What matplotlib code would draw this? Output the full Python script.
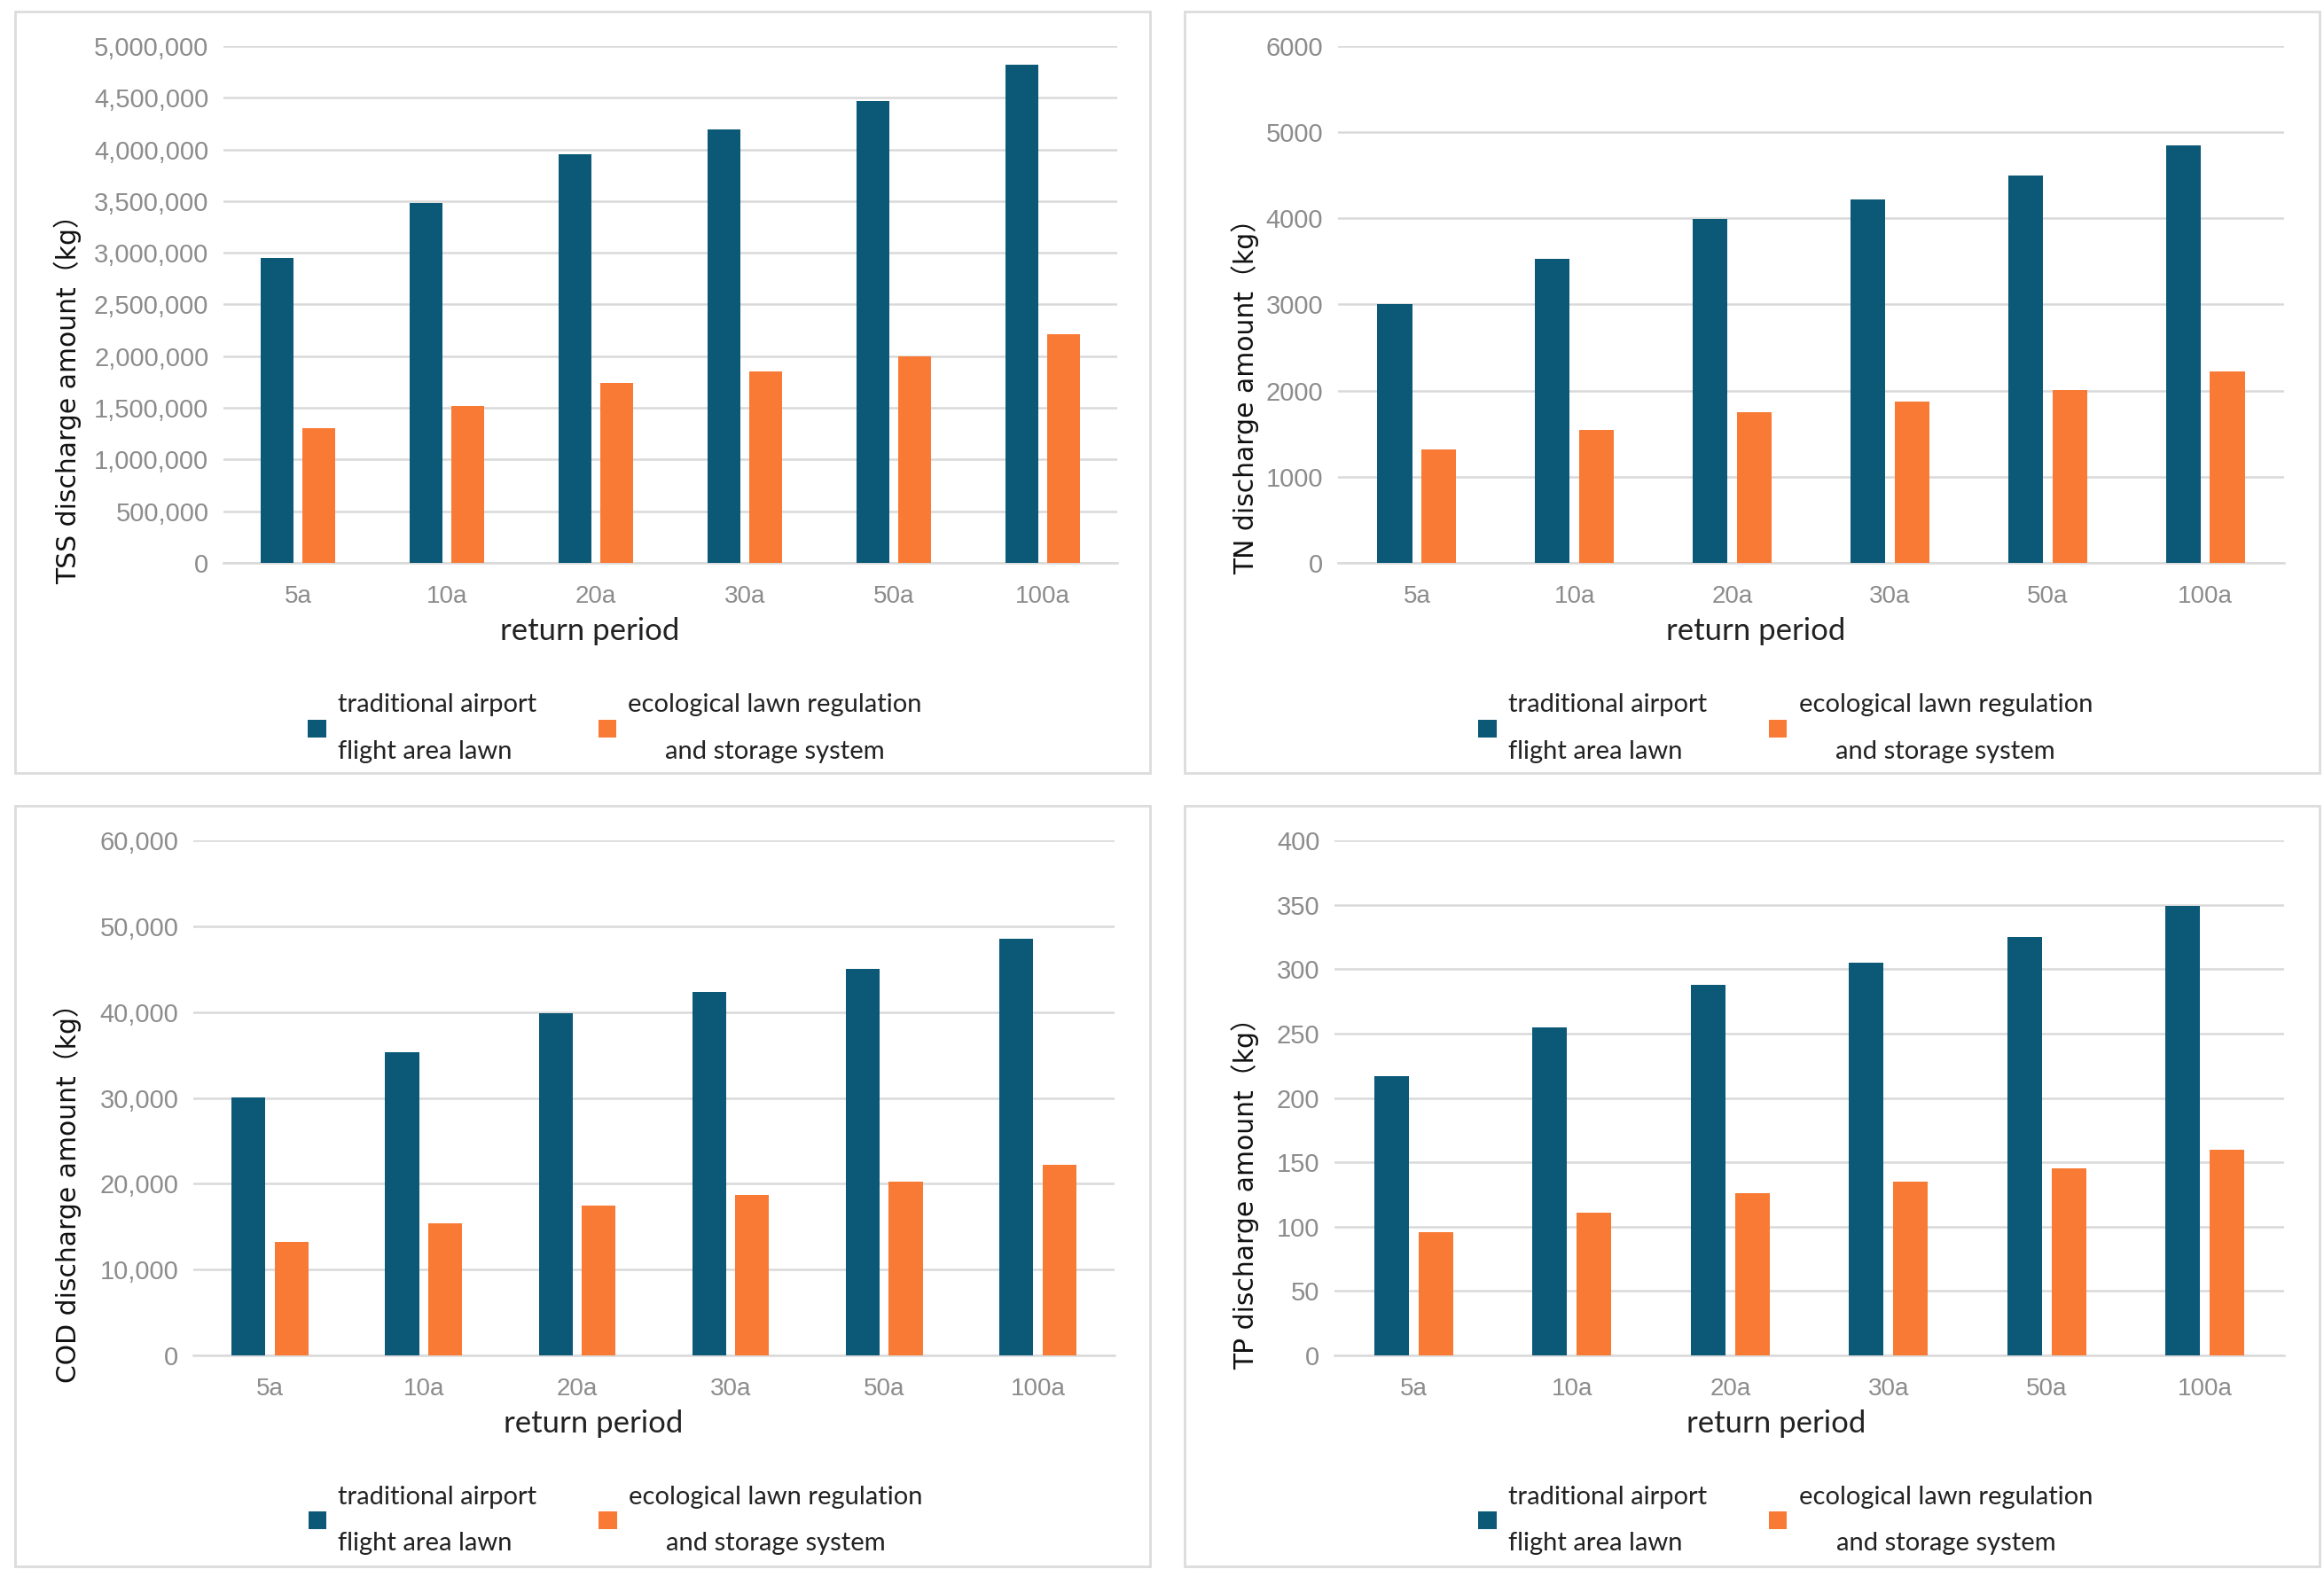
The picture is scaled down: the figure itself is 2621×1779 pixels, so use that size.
import matplotlib
matplotlib.use("Agg")
import matplotlib.pyplot as plt
import numpy as np
from matplotlib.patches import Rectangle, Patch
from matplotlib.ticker import FuncFormatter

categories = ["5a", "10a", "20a", "30a", "50a", "100a"]

tss_traditional = [2950000, 3480000, 3950000, 4190000, 4470000, 4820000]
tss_ecological = [1300000, 1520000, 1740000, 1850000, 2000000, 2210000]

tn_traditional = [3000, 3530, 3990, 4220, 4500, 4850]
tn_ecological = [1320, 1540, 1750, 1870, 2010, 2220]

cod_traditional = [30100, 35300, 39900, 42300, 45000, 48500]
cod_ecological = [13200, 15400, 17500, 18700, 20200, 22200]

tp_traditional = [217, 255, 288, 305, 325, 349]
tp_ecological = [96, 111, 126, 135, 145, 160]

label_traditional = "traditional airport\nflight area lawn"
label_ecological = "ecological lawn regulation\nand storage system"
xlabel_text = "return period"

BLUE = "#0B5877"
ORANGE = "#F97A35"
GRID = "#D9D9D9"
TICKC = "#8C8C8C"

W, H = 2621, 1779
fig = plt.figure(figsize=(W / 100, H / 100), dpi=100)
fig.patch.set_facecolor("white")

def fx(px):
    return px / W

def fy(py):
    return 1 - py / H

# panel borders (pixel boxes)
for (x0, y0, x1, y1) in [(17, 13, 1297, 872), (1336, 13, 2616, 872),
                         (17, 909, 1297, 1767), (1336, 909, 2616, 1767)]:
    fig.patches.append(Rectangle((fx(x0), fy(y1)), fx(x1 - x0), (y1 - y0) / H,
                                 transform=fig.transFigure, fill=False,
                                 edgecolor="#DCDCDC", linewidth=2.0))

panels = [
    dict(box=(252, 52, 1260, 635), trad=tss_traditional, eco=tss_ecological,
         ymax=5000000, step=500000, comma=True, ylabel="TSS discharge amount（kg）",
         ylab=(-0.159, 0.33), xlab=(0.41, -0.105), leg=(0.438, -0.32)),
    dict(box=(1509, 52, 2576, 635), trad=tn_traditional, eco=tn_ecological,
         ymax=6000, step=1000, comma=False, ylabel="TN discharge amount（kg）",
         ylab=(-0.083, 0.334), xlab=(0.442, -0.105), leg=(0.473, -0.32)),
    dict(box=(218, 948, 1257, 1529), trad=cod_traditional, eco=cod_ecological,
         ymax=60000, step=10000, comma=True, ylabel="COD discharge amount（kg）",
         ylab=(-0.121, 0.327), xlab=(0.434, -0.105), leg=(0.458, -0.32)),
    dict(box=(1505, 948, 2576, 1529), trad=tp_traditional, eco=tp_ecological,
         ymax=400, step=50, comma=False, ylabel="TP discharge amount（kg）",
         ylab=(-0.079, 0.327), xlab=(0.465, -0.105), leg=(0.475, -0.32)),
]

x = np.arange(len(categories))
bw = 0.22
off = 0.14

for p in panels:
    x0, y0, x1, y1 = p["box"]
    ax = fig.add_axes([fx(x0), fy(y1), (x1 - x0) / W, (y1 - y0) / H])
    ax.set_facecolor("white")
    ax.bar(x - off, p["trad"], width=bw, color=BLUE, zorder=3)
    ax.bar(x + off, p["eco"], width=bw, color=ORANGE, zorder=3)
    ax.set_xlim(-0.5, len(categories) - 0.5)
    ax.set_ylim(0, p["ymax"])
    ax.set_yticks(np.arange(0, p["ymax"] + p["step"] / 2, p["step"]))
    if p["comma"]:
        ax.yaxis.set_major_formatter(FuncFormatter(lambda v, _: f"{int(round(v)):,}"))
    else:
        ax.yaxis.set_major_formatter(FuncFormatter(lambda v, _: f"{int(round(v))}"))
    ax.set_xticks(x)
    ax.set_xticklabels(categories)
    ax.grid(axis="y", color=GRID, linewidth=1.8, zorder=0)
    ax.set_axisbelow(True)
    for s in ["top", "right", "left"]:
        ax.spines[s].set_visible(False)
    ax.spines["bottom"].set_color(GRID)
    ax.spines["bottom"].set_linewidth(1.8)
    ax.tick_params(axis="both", length=0)
    ax.tick_params(axis="y", pad=12, labelsize=21, labelcolor=TICKC)
    ax.tick_params(axis="x", pad=18, labelsize=20, labelcolor=TICKC)
    for t in ax.get_yticklabels() + ax.get_xticklabels():
        t.set_fontfamily("Liberation Sans")
    ax.set_xlabel(xlabel_text, fontsize=25, family="Lato", color="#222222")
    ax.xaxis.set_label_coords(*p["xlab"])
    ax.set_ylabel(p["ylabel"], fontsize=21.5, family=["DejaVu Sans", "Noto Sans CJK SC"],
                  color="#111111")
    ax.yaxis.set_label_coords(*p["ylab"])
    handles = [Patch(facecolor=BLUE, edgecolor="none"), Patch(facecolor=ORANGE, edgecolor="none")]
    leg = ax.legend(handles, [label_traditional, label_ecological], loc="center",
                    bbox_to_anchor=p["leg"], ncol=2, frameon=False,
                    prop=dict(family="Lato", size=21), handlelength=0.7,
                    handleheight=0.7, handletextpad=0.45, columnspacing=2.4)
    texts = leg.get_texts()
    for t in texts:
        t.set_linespacing(2.25)
        t.set_color("#222222")
    texts[1].set_multialignment("center")

fig.savefig("out.png", dpi=100, facecolor="white")
